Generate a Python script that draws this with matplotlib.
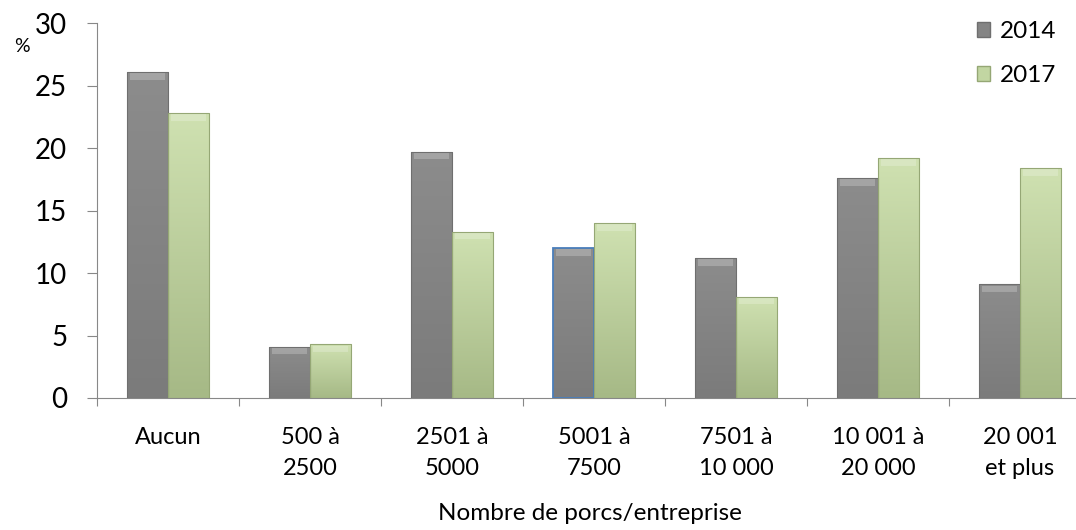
import numpy as np
import matplotlib.pyplot as plt
from matplotlib.colors import LinearSegmentedColormap
from matplotlib.patches import Rectangle

categories = ['Aucun', '500 à\n2500', '2501 à\n5000', '5001 à\n7500',
              '7501 à\n10 000', '10 001 à\n20 000', '20 001\net plus']
v2014 = [26.1, 4.1, 19.7, 12.0, 11.2, 17.6, 9.1]
v2017 = [22.8, 4.3, 13.3, 14.0, 8.1, 19.2, 18.4]
years = ['2014', '2017']

plt.rcParams['font.family'] = ['Lato', 'DejaVu Sans']

fig = plt.figure(figsize=(10.76, 5.30), dpi=100)
ax = fig.add_axes([97 / 1076, 132 / 530, 7 * 142 / 1076, 374.7 / 530])

x = np.arange(len(categories))
w = 0.29

grey = LinearSegmentedColormap.from_list('g', ['#7b7b7b', '#8c8c8c'])
green = LinearSegmentedColormap.from_list('v', ['#a6b986', '#cfe1b1'])

def shaded_bars(xpos, vals, cmap, edge):
    bars = ax.bar(xpos, vals, w, color='none', edgecolor=edge, linewidth=0.8, zorder=3)
    grad = np.linspace(0, 1, 100).reshape(-1, 1)
    for b in bars:
        x0, y0 = b.get_x(), b.get_y()
        bw, bh = b.get_width(), b.get_height()
        im = ax.imshow(grad, cmap=cmap, origin='lower', aspect='auto',
                       extent=[x0, x0 + bw, y0, y0 + bh], zorder=2)
        im.set_clip_path(b)
        # bevel highlight along the top
        ax.add_patch(Rectangle((x0 + bw * 0.08, y0 + bh - 0.6), bw * 0.84, 0.5,
                               facecolor='white', alpha=0.22, lw=0, zorder=3))
    return bars

b1 = shaded_bars(x - w / 2, v2014, grey, '#6f6f6f')
b2 = shaded_bars(x + w / 2, v2017, green, '#95a775')
b1[3].set_edgecolor('#4a7ebb')
b1[3].set_linewidth(1.3)

ax.set_xlim(-0.5, len(categories) - 0.5)
ax.set_ylim(0, 30)
ax.set_yticks(range(0, 31, 5))
ax.set_xticks(np.arange(-0.5, len(categories), 1))
ax.set_xticklabels([])
ax.tick_params(axis='x', length=6, color='#888888', direction='out')
ax.tick_params(axis='y', length=7.5, color='#888888', direction='out',
               labelsize=20, pad=14)

for s in ['top', 'right']:
    ax.spines[s].set_visible(False)
for s in ['left', 'bottom']:
    ax.spines[s].set_color('#888888')

for i, c in enumerate(categories):
    ax.text(i, -2.3, c, ha='center', va='top', fontsize=17, linespacing=1.62)

fig.text(590 / 1076, 1 - 513 / 530, 'Nombre de porcs/entreprise', ha='center',
         va='center', fontsize=17.5)
fig.text(22 / 1076, 1 - 46 / 530, '%', ha='center', va='center', fontsize=14)

ax.legend([Rectangle((0, 0), 1, 1, fc='#858585', ec='#6f6f6f'),
           Rectangle((0, 0), 1, 1, fc='#c2d6a2', ec='#95a775')],
          years, loc='upper left', bbox_to_anchor=(955 / 1076, 1 + 1 / 530),
          bbox_transform=fig.transFigure, frameon=False, fontsize=17.5,
          handlelength=0.55, handleheight=0.55, handletextpad=0.4, labelspacing=0.95)

fig.savefig('out.png', dpi=100)
